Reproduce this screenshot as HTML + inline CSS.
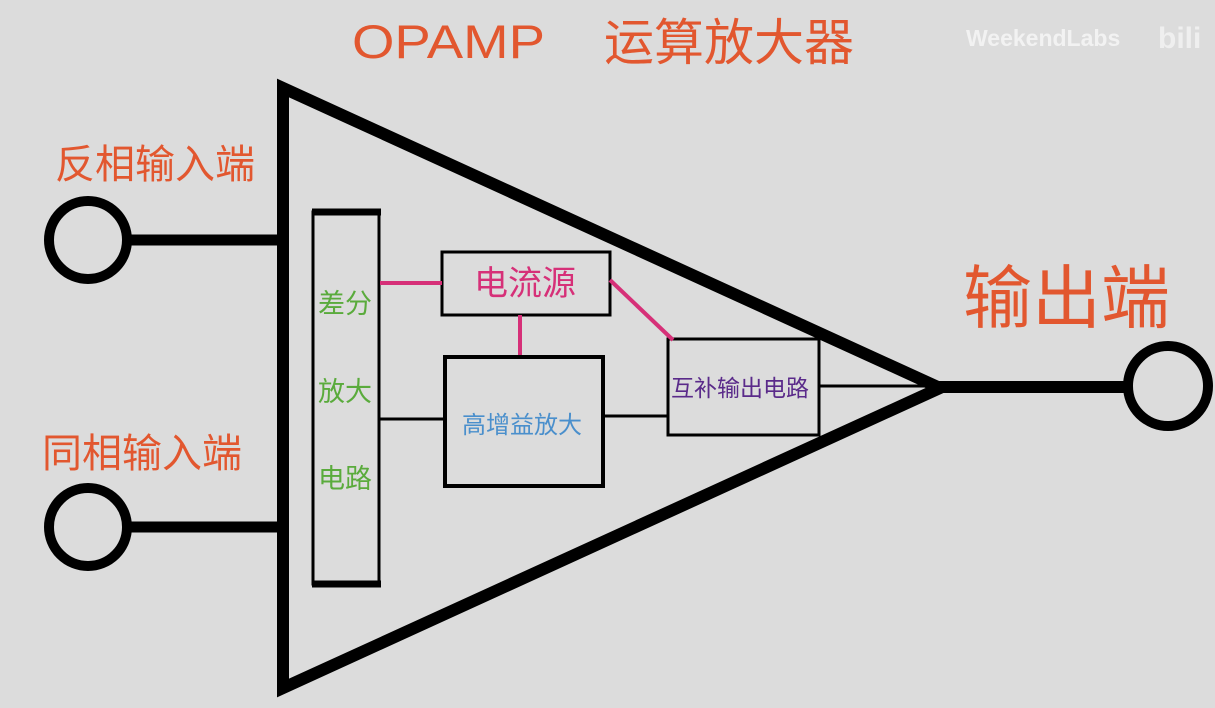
<!DOCTYPE html>
<html><head><meta charset="utf-8"><style>
body{margin:0;width:1215px;height:708px;background:#dcdcdc;overflow:hidden;font-family:"Liberation Sans","Noto Sans CJK SC",sans-serif}
svg{position:absolute;left:0;top:0}
</style></head><body>
<svg width="1215" height="708" viewBox="0 0 1215 708" font-family="Liberation Sans, Noto Sans CJK SC, sans-serif">
<rect width="1215" height="708" fill="#dcdcdc"/>
<polygon points="283,88 940,388 283,688" fill="none" stroke="#000" stroke-width="12" stroke-linejoin="miter"/>
<g stroke="#000" fill="none">
<circle cx="88" cy="240" r="39" stroke-width="10"/>
<circle cx="88" cy="527" r="39" stroke-width="10"/>
<circle cx="1168" cy="386" r="40" stroke-width="10"/>
<line x1="127" y1="240" x2="283" y2="240" stroke-width="11"/>
<line x1="127" y1="527" x2="283" y2="527" stroke-width="11"/>
<line x1="935" y1="387" x2="1128" y2="387" stroke-width="12"/>
<rect x="313" y="212" width="66" height="372" stroke-width="3"/>
<line x1="312" y1="212" x2="381" y2="212" stroke-width="7"/>
<line x1="312" y1="584" x2="381" y2="584" stroke-width="7"/>
<rect x="442" y="252" width="168" height="63" stroke-width="3"/>
<rect x="445" y="357" width="158" height="129" stroke-width="4"/>
<rect x="668" y="339" width="151" height="96" stroke-width="3"/>
<line x1="380" y1="419" x2="445" y2="419" stroke-width="3"/>
<line x1="603" y1="416" x2="668" y2="416" stroke-width="3"/>
<line x1="819" y1="386" x2="940" y2="386" stroke-width="3"/>
</g>
<g stroke="#d63078" stroke-width="4">
<line x1="380" y1="283" x2="442" y2="283"/>
<line x1="520" y1="315" x2="520" y2="355"/>
<line x1="610" y1="280" x2="673" y2="340"/>
</g>
<g fill="#e2572f">
<text x="352" y="58" font-size="47" textLength="193" lengthAdjust="spacingAndGlyphs">OPAMP</text>
<text x="604" y="60" font-size="50">运算放大器</text>
<text x="55" y="178" font-size="40">反相输入端</text>
<text x="42" y="467" font-size="40">同相输入端</text>
<text x="963" y="322" font-size="69">输出端</text>
</g>
<g fill="#5aab3c" font-size="27">
<text x="318" y="313">差分</text>
<text x="318" y="401">放大</text>
<text x="318" y="488">电路</text>
</g>
<text x="474" y="295" font-size="34" fill="#d63078">电流源</text>
<text x="462" y="433" font-size="24" fill="#4a8fcc">高增益放大</text>
<text x="671" y="396" font-size="23" fill="#5a2a8a">互补输出电路</text>
<text x="966" y="46" font-size="23" font-weight="bold" fill="#f2f2f2">WeekendLabs</text>
<text x="1158" y="48" font-size="30" font-weight="bold" fill="#efefef">bili</text>
</svg>
</body></html>
